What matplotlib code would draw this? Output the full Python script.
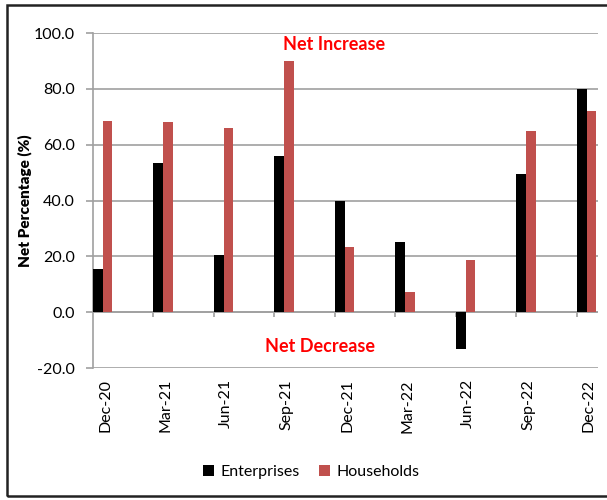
import matplotlib
import matplotlib.pyplot as plt
import numpy as np
from matplotlib.patches import Rectangle

matplotlib.use("Agg")

quarters = ["Dec-20", "Mar-21", "Jun-21", "Sep-21", "Dec-21",
            "Mar-22", "Jun-22", "Sep-22", "Dec-22"]
enterprises = [15.5, 53.5, 20.5, 56.0, 40.0, 25.0, -13.2, 49.5, 79.8]
households = [68.5, 68.0, 66.0, 90.0, 23.5, 7.4, 18.6, 65.0, 72.2]

plt.rcParams["font.family"] = ["Lato", "DejaVu Sans"]

fig = plt.figure(figsize=(6.07, 5.0), dpi=100)
ax = fig.add_axes([93 / 607, 1 - 368 / 500, 505 / 607, 335 / 500])

x = np.arange(len(quarters))
w = 0.16
ax.bar(x, enterprises, width=w, align="edge", color="black", label="Enterprises", zorder=3)
ax.bar(x + w, households, width=w, align="edge", color="#C0504D", label="Households", zorder=3)

ax.set_xlim(0, 8.35)
ax.set_ylim(-20, 100)
ax.set_yticks(np.arange(-20, 101, 20))
ax.set_yticklabels([f"{v:.1f}" for v in np.arange(-20, 101, 20)], fontsize=11.5)
ax.yaxis.grid(True, color="#a0a0a0", linewidth=1.2, zorder=0)
ax.tick_params(axis="y", length=5, width=1.2, color="#a0a0a0", pad=8)

# category axis sits on zero, labels hang below the plot
ax.axhline(0, color="#a0a0a0", linewidth=1.2, zorder=2)
ax.vlines(x[1:], -1.6, 0, color="#a0a0a0", linewidth=1.2, zorder=2)
ax.set_xticks(x + 0.2)
ax.set_xticklabels(quarters, rotation=90, fontsize=11.5)
ax.tick_params(axis="x", length=0, pad=8)

for side in ("top", "right", "bottom"):
    ax.spines[side].set_visible(False)
ax.spines["left"].set_color("#a0a0a0")
ax.spines["left"].set_linewidth(1.2)

ax.set_ylabel("Net Percentage (%)", fontsize=11, fontweight="heavy", labelpad=1)

ax.text(3.98, 96, "Net Increase", color="red", fontsize=13, fontweight="bold",
        ha="center", va="center")
ax.text(3.75, -12.2, "Net Decrease", color="red", fontsize=13, fontweight="bold",
        ha="center", va="center")

fig.legend(loc="center", bbox_to_anchor=(0.513, 0.056), ncol=2, frameon=False,
           fontsize=11.5, handlelength=0.7, handleheight=0.7, handletextpad=0.4,
           columnspacing=1.2)

# outer frame around the figure panel
fig.patches.append(Rectangle((7 / 607, 4 / 500), 1.0, 1 - 9 / 500,
                             transform=fig.transFigure, fill=False,
                             edgecolor="#222222", linewidth=1.8))

fig.savefig("out.png", dpi=100)
plt.close(fig)
